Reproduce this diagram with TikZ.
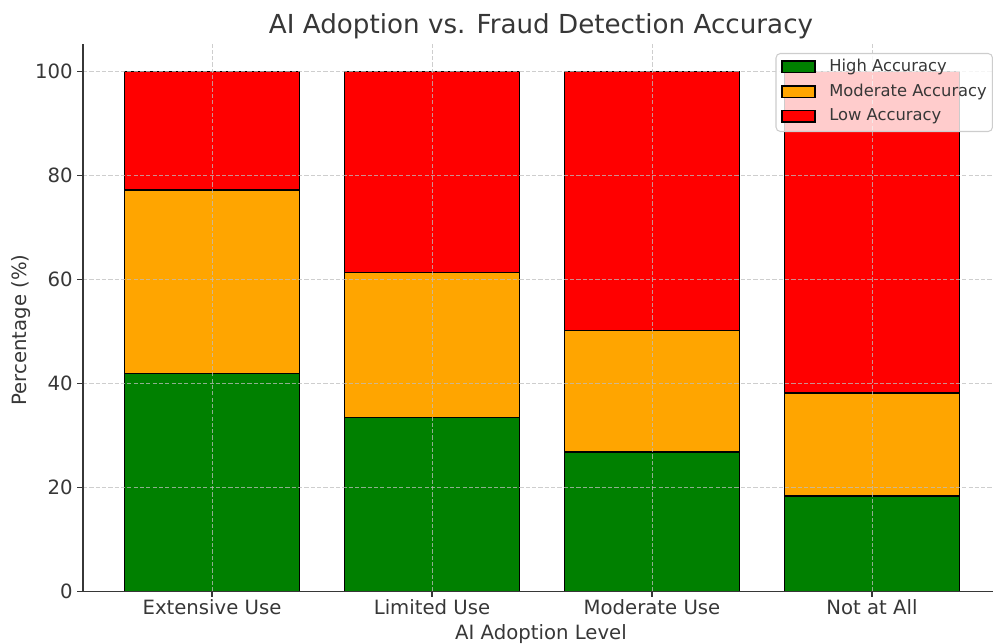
\documentclass[tikz,border=0pt]{standalone}
\usepackage{fontspec}
\setmainfont{DejaVu Sans}
\usepackage{tikz}
\usepackage{xcolor}

\definecolor{txtgray}{RGB}{55,55,55}
\definecolor{gridgray}{RGB}{190,190,190}
\definecolor{legendgray}{RGB}{205,205,205}
\definecolor{hiacc}{RGB}{0,128,0}
\definecolor{modacc}{RGB}{255,165,0}
\definecolor{lowacc}{RGB}{255,0,0}

\begin{document}
\begin{tikzpicture}[x=0.02cm,y=-0.02cm,
  titletext/.style={text=txtgray,font=\fontsize{14.9}{18}\selectfont},
  ticktext/.style={text=txtgray,font=\fontsize{11.2}{13}\selectfont,inner sep=0pt},
  legtext/.style={text=txtgray,font=\fontsize{9.3}{11}\selectfont,inner sep=0pt,anchor=west},
  barpart/.style={draw=black,line width=0.8pt},
  gridline/.style={gridgray,dashed,dash pattern=on 2.4pt off 1.2pt,line width=0.45pt,opacity=0.75},
  spine/.style={txtgray,line width=0.7pt}]
\useasboundingbox (0,0) rectangle (993,643);

% bars, in data units (percent) above the x axis
\begin{scope}[shift={(0,591.5)},y=0.104cm]
\fill[hiacc] (124.5,0) rectangle (299.5,41.9);
\draw[barpart] (124.5,0) rectangle (299.5,41.9);
\fill[modacc] (124.5,41.9) rectangle (299.5,77.2);
\draw[barpart] (124.5,41.9) rectangle (299.5,77.2);
\fill[lowacc] (124.5,77.2) rectangle (299.5,100);
\draw[barpart] (124.5,77.2) rectangle (299.5,100);

\fill[hiacc] (344.5,0) rectangle (519.5,33.5);
\draw[barpart] (344.5,0) rectangle (519.5,33.5);
\fill[modacc] (344.5,33.5) rectangle (519.5,61.4);
\draw[barpart] (344.5,33.5) rectangle (519.5,61.4);
\fill[lowacc] (344.5,61.4) rectangle (519.5,100);
\draw[barpart] (344.5,61.4) rectangle (519.5,100);

\fill[hiacc] (564.5,0) rectangle (739.5,26.8);
\draw[barpart] (564.5,0) rectangle (739.5,26.8);
\fill[modacc] (564.5,26.8) rectangle (739.5,50.2);
\draw[barpart] (564.5,26.8) rectangle (739.5,50.2);
\fill[lowacc] (564.5,50.2) rectangle (739.5,100);
\draw[barpart] (564.5,50.2) rectangle (739.5,100);

\fill[hiacc] (784.5,0) rectangle (959.5,18.4);
\draw[barpart] (784.5,0) rectangle (959.5,18.4);
\fill[modacc] (784.5,18.4) rectangle (959.5,38.2);
\draw[barpart] (784.5,18.4) rectangle (959.5,38.2);
\fill[lowacc] (784.5,38.2) rectangle (959.5,100);
\draw[barpart] (784.5,38.2) rectangle (959.5,100);

% grid
\draw[gridline] (83,20) -- (993,20);
\draw[gridline] (83,40) -- (993,40);
\draw[gridline] (83,60) -- (993,60);
\draw[gridline] (83,80) -- (993,80);
\draw[gridline] (83,100) -- (993,100);
\draw[gridline] (212,0) -- (212,105.3);
\draw[gridline] (432,0) -- (432,105.3);
\draw[gridline] (652,0) -- (652,105.3);
\draw[gridline] (872,0) -- (872,105.3);

% axes and ticks
\draw[spine] (83,105.3) -- (83,0) -- (993,0);
\draw[spine] (77,0) -- (83,0);
\draw[spine] (77,20) -- (83,20);
\draw[spine] (77,40) -- (83,40);
\draw[spine] (77,60) -- (83,60);
\draw[spine] (77,80) -- (83,80);
\draw[spine] (77,100) -- (83,100);
\draw[spine] (212,0) -- (212,-1.1);
\draw[spine] (432,0) -- (432,-1.1);
\draw[spine] (652,0) -- (652,-1.1);
\draw[spine] (872,0) -- (872,-1.1);

\node[ticktext,anchor=east] (y0) at (73,0) {0};
\node[ticktext,anchor=east] (y20) at (73,20) {20};
\node[ticktext,anchor=east] (y40) at (73,40) {40};
\node[ticktext,anchor=east] (y60) at (73,60) {60};
\node[ticktext,anchor=east] (y80) at (73,80) {80};
\node[ticktext,anchor=east] (y100) at (73,100) {100};
\end{scope}

\node[ticktext,anchor=base] (xext) at (212,614) {Extensive Use};
\node[ticktext,anchor=base] (xlim) at (432,614) {Limited Use};
\node[ticktext,anchor=base] (xmod) at (652,614) {Moderate Use};
\node[ticktext,anchor=base] (xnot) at (872,614) {Not at All};

\node[ticktext,anchor=base] (xlabel) at (541,639) {AI Adoption Level};
\node[ticktext,rotate=90] (ylabel) at (21,330) {Percentage (\%)};
\node[titletext,anchor=base,inner sep=0pt] (title) at (541,33) {AI Adoption vs. Fraud Detection Accuracy};

% legend
\draw[legendgray,fill=white,fill opacity=0.8,rounded corners=2.5pt,line width=0.6pt] (776,53.5) rectangle (992.5,131.5);
\draw[fill=hiacc,draw=black,line width=0.7pt] (782,61) rectangle (815,72.5);
\draw[fill=modacc,draw=black,line width=0.7pt] (782,86) rectangle (815,97.5);
\draw[fill=lowacc,draw=black,line width=0.7pt] (782,110.5) rectangle (815,122);
\node[legtext] (leghi) at (829,66.7) {High Accuracy};
\node[legtext] (legmod) at (829,91.7) {Moderate Accuracy};
\node[legtext] (leglow) at (829,116.2) {Low Accuracy};
\end{tikzpicture}
\end{document}
